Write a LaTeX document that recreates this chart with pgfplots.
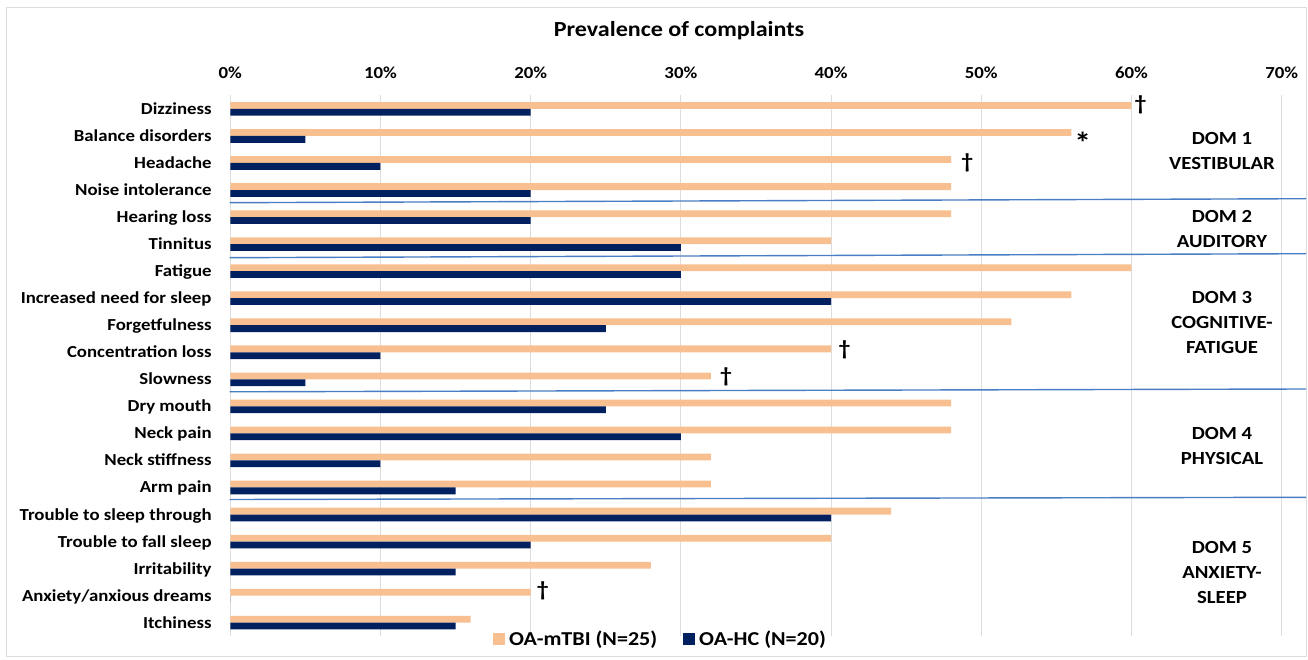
\documentclass[border=0pt]{standalone}
\usepackage{fontspec}
\setmainfont{Carlito}[FakeStretch=1.12]
\usepackage{pgfplots}
\pgfplotsset{compat=1.18}
\definecolor{peach}{HTML}{F8C090}
\definecolor{navy}{HTML}{002060}
\definecolor{sepblue}{HTML}{4A7EC4}
\definecolor{gridgray}{HTML}{DDDDDD}
\newcommand{\lbl}{\bfseries\fontsize{16.8}{19}\selectfont}
\begin{document}
\begin{tikzpicture}[x=1pt,y=1pt]
\useasboundingbox (0,0) rectangle (1308,659);
\draw[gridgray, line width=0.8pt] (6,3) rectangle (1306,652);
\begin{axis}[
  at={(230.3pt,22.8pt)}, anchor=south west,
  width=1051.4pt, height=540.8pt, scale only axis,
  xbar, bar width=6.8pt,
  xmin=0, xmax=70, ymin=-0.5, ymax=19.5,
  xtick={0,10,...,70},
  xticklabels={0\%,10\%,20\%,30\%,40\%,50\%,60\%,70\%},
  xticklabel pos=right,
  ytick={0,...,19},
  yticklabels={Itchiness,Anxiety/anxious dreams,Irritability,Trouble to fall sleep,Trouble to sleep through,Arm pain,Neck stiffness,Neck pain,Dry mouth,Slowness,Concentration loss,Forgetfulness,Increased need for sleep,Fatigue,Tinnitus,Hearing loss,Noise intolerance,Headache,Balance disorders,Dizziness},
  axis line style={draw=none},
  major tick length=0pt,
  xmajorgrids, grid style={draw=gridgray, line width=0.8pt},
  ticklabel style={font=\lbl},
  yticklabel style={anchor=base east, inner sep=0pt, xshift=-18.5pt, yshift=-5.5pt},
  xticklabel style={anchor=base, inner sep=0pt, yshift=16.7pt},
  legend columns=2,
  legend style={at={(0.2499,-0.0052)}, anchor=west, draw=none, fill=none,
    inner sep=0pt, outer sep=0pt, font=\bfseries\fontsize{19.7}{23}\selectfont,
    /tikz/every even column/.append style={column sep=24pt}},
  clip=false,
]
\addplot[fill=peach, draw=none, bar shift=3.4pt,
  legend image code/.code={\fill[peach] (0pt,-5.8pt) rectangle (11.5pt,5.8pt); \path (14pt,0pt);}]
  coordinates {(60,19) (56,18) (48,17) (48,16) (48,15) (40,14) (60,13) (56,12) (52,11) (40,10) (32,9) (48,8) (48,7) (32,6) (32,5) (44,4) (40,3) (28,2) (20,1) (16,0)};
\addlegendentry{OA-mTBI (N=25)}
\addplot[fill=navy, draw=none, bar shift=-3.4pt,
  legend image code/.code={\fill[navy] (0pt,-5.8pt) rectangle (11.5pt,5.8pt); \path (14pt,0pt);}]
  coordinates {(20,19) (5,18) (10,17) (20,16) (20,15) (30,14) (30,13) (40,12) (25,11) (10,10) (5,9) (25,8) (30,7) (10,6) (15,5) (40,4) (20,3) (15,2) (0,1) (15,0)};
\addlegendentry{OA-HC (N=20)}
\begin{scope}[every node/.style={font=\bfseries\fontsize{21}{24}\selectfont}]
\node at (axis cs:60.6,19.15) {\textdagger};
\node[font=\bfseries\fontsize{30}{30}\selectfont] at (axis cs:56.75,17.75) {*};
\node at (axis cs:49.07,16.99) {\textdagger};
\node at (axis cs:40.9,10.09) {\textdagger};
\node at (axis cs:33.0,9.09) {\textdagger};
\node at (axis cs:20.8,1.17) {\textdagger};
\end{scope}
\end{axis}
\draw[sepblue, line width=1.4pt] (229.5,456.3) -- (1306,460.3);
\draw[sepblue, line width=1.4pt] (229.5,401.3) -- (1306,405.3);
\draw[sepblue, line width=1.4pt] (229.5,267.2) -- (1306,270);
\draw[sepblue, line width=1.4pt] (229.5,159.5) -- (1306,161.7);
\node[font=\bfseries\fontsize{21.5}{25}\selectfont, anchor=base] at (679,622.3) {Prevalence of complaints};
\begin{scope}[every node/.style={font=\bfseries\fontsize{18.5}{25}\selectfont, align=center}]
\node at (1222,507.5) {DOM 1\\VESTIBULAR};
\node at (1222,429.5) {DOM 2\\AUDITORY};
\node at (1222,336) {DOM 3\\COGNITIVE-\\FATIGUE};
\node at (1222,213.5) {DOM 4\\PHYSICAL};
\node at (1222,87) {DOM 5\\ANXIETY-\\SLEEP};
\end{scope}
\end{tikzpicture}
\end{document}
